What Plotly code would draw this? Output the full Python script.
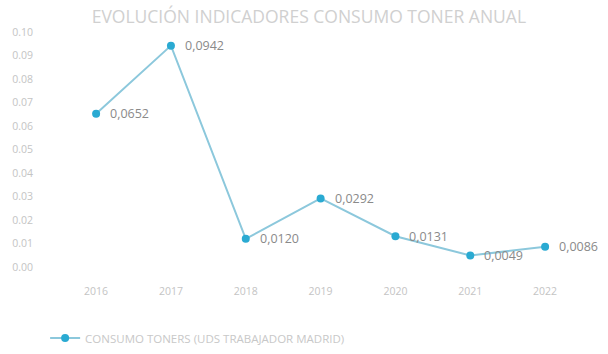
import plotly.graph_objects as go

# Annual toner consumption indicator (units per worker, Madrid)
years = [2016, 2017, 2018, 2019, 2020, 2021, 2022]
consumo = [0.0652, 0.0942, 0.0120, 0.0292, 0.0131, 0.0049, 0.0086]
y_ticks = [0.00, 0.01, 0.02, 0.03, 0.04, 0.05, 0.06, 0.07, 0.08, 0.09, 0.10]

labels = [f"{v:.4f}".replace(".", ",") for v in consumo]

fig = go.Figure()
fig.add_trace(go.Scatter(
    x=years,
    y=consumo,
    mode="lines+markers",
    name="CONSUMO TONERS (UDS TRABAJADOR MADRID)",
    line=dict(color="#8cc8dc", width=2),
    marker=dict(color="#2aaad2", size=8),
))

# value labels to the right of each point
for x, y, t in zip(years, consumo, labels):
    fig.add_annotation(
        x=x, y=y, text=t, showarrow=False,
        xanchor="left", yanchor="middle", xshift=12,
        font=dict(family="Open Sans", size=12.5, color="#8a8a8a"),
    )

fig.update_layout(
    width=608,
    height=354,
    paper_bgcolor="white",
    plot_bgcolor="white",
    margin=dict(l=34, r=18, t=32, b=87, autoexpand=False),
    title=dict(
        text="EVOLUCIÓN INDICADORES CONSUMO TONER ANUAL",
        x=0.508,
        xanchor="center",
        y=0.952,
        yanchor="middle",
        font=dict(family="Open Sans", size=17.5, color="#d0d0d0"),
    ),
    showlegend=True,
    legend=dict(
        orientation="h",
        x=0.02,
        xanchor="left",
        yref="container",
        y=0.045,
        yanchor="middle",
        font=dict(family="Open Sans", size=11.5, color="#c8c8c8"),
    ),
    xaxis=dict(
        range=[2015.17, 2022.6],
        tickmode="array",
        tickvals=years,
        ticktext=[str(y) for y in years],
        showgrid=False,
        zeroline=False,
        showline=False,
        ticks="outside",
        ticklen=14,
        tickcolor="rgba(0,0,0,0)",
        tickfont=dict(family="Open Sans", size=10.5, color="#c4c4c4"),
    ),
    yaxis=dict(
        range=[0, 0.10],
        tickmode="array",
        tickvals=y_ticks,
        ticktext=[f"{v:.2f}" for v in y_ticks],
        showgrid=False,
        zeroline=False,
        showline=False,
        ticks="",
        tickfont=dict(family="Open Sans", size=10.5, color="#c4c4c4"),
    ),
)

fig.write_html("out.html")
